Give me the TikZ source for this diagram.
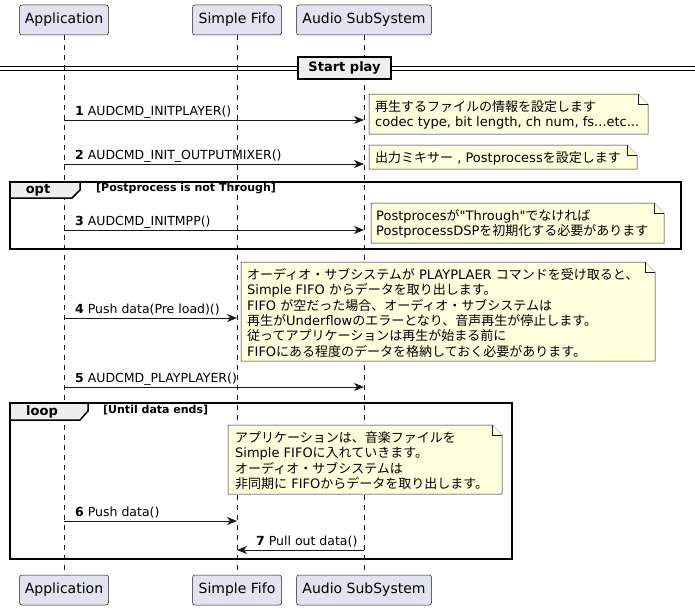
\documentclass[tikz,border=0pt]{standalone}
\usepackage{fontspec}
\setmainfont{DejaVu Sans}
\newfontfamily\rawfont{DejaVu Sans}[Ligatures=ResetAll]
\newfontfamily\jpfont{Noto Sans CJK JP}
\newcommand\jp[1]{{\jpfont #1}}
\newcommand\sq{{\rawfont\char34}}
\newcommand\fl{\rule{0pt}{12pt}}
\usetikzlibrary{arrows.meta}
\definecolor{partfill}{HTML}{E2E2F0}
\definecolor{lineclr}{HTML}{181818}
\definecolor{notefill}{HTML}{FEFFDD}
\definecolor{grpfill}{HTML}{EEEEEE}
\newcommand\notebg[4]{%
  \draw[notebox] (#1,#2) -- ({#3-10},#2) -- (#3,{#2+10}) -- (#3,#4) -- (#1,#4) -- cycle;
  \draw[notebox] ({#3-10},#2) -- ({#3-10},{#2+10}) -- (#3,{#2+10});}
\begin{document}
\begin{tikzpicture}[x=1pt,y=-1pt,
  participant/.style={draw=lineclr, fill=partfill, rounded corners=2.5pt, line width=0.5pt,
    minimum height=30pt, inner sep=0pt, font=\fontsize{14}{16}\selectfont},
  lifeline/.style={draw=lineclr, line width=0.5pt, dash pattern=on 5pt off 5pt},
  msg/.style={draw=lineclr, line width=1pt, -{Stealth[length=10pt,width=8pt,inset=3pt]}},
  msglabel/.style={anchor=base west, inner sep=0pt, font=\fontsize{12.5}{15}\selectfont},
  notebox/.style={draw=lineclr, fill=notefill, line width=0.5pt},
  notetext/.style={anchor=north west, inner sep=0pt, align=left, font=\fontsize{13}{15.4}\selectfont},
  frame/.style={draw=black, line width=1.5pt},
  tabbox/.style={draw=black, line width=1.5pt, fill=grpfill},
  grplabel/.style={inner sep=0pt, font=\fontsize{13}{15}\selectfont\bfseries},
  grpcond/.style={anchor=west, inner sep=0pt, font=\fontsize{11}{13}\selectfont\bfseries},
  divider/.style={draw=black, line width=2pt, fill=grpfill, minimum width=93pt, minimum height=22pt,
    inner sep=0pt, font=\fontsize{13}{15}\selectfont\bfseries}
]
\useasboundingbox (0,0) rectangle (695,610);

% participants
\node[participant, minimum width=89pt]  (appT)  at (64,20)  {Application};
\node[participant, minimum width=89pt]  (fifoT) at (237,20) {Simple Fifo};
\node[participant, minimum width=135pt] (audT)  at (364,20) {Audio SubSystem};
\node[participant, minimum width=89pt]  (appB)  at (64,590)  {Application};
\node[participant, minimum width=89pt]  (fifoB) at (237,590) {Simple Fifo};
\node[participant, minimum width=135pt] (audB)  at (364,590) {Audio SubSystem};

% lifelines
\draw[lifeline] (appT.south) -- (appB.north);
\draw[lifeline] (fifoT.south) -- (fifoB.north);
\draw[lifeline] (audT.south) -- (audB.north);

% divider
\draw[line width=1pt] (0,66) -- (695,66);
\draw[line width=1pt] (0,70) -- (695,70);
\node[divider] (startplay) at (344.5,68) {Start play};

% opt frame
\draw[frame] (10,182) rectangle (681,249);
\draw[tabbox] (10,182) -- (80,182) -- (80,190) -- (72,198) -- (10,198) -- cycle;
\node[grplabel] (optlbl) at (38,190) {opt};
\node[grpcond] (optcond) at (96,189) {[Postprocess is not Through]};

% loop frame
\draw[frame] (10,403) rectangle (512,559);
\draw[tabbox] (10,403) -- (88,403) -- (88,411) -- (80,420) -- (10,420) -- cycle;
\node[grplabel] (looplbl) at (42,411.5) {loop};
\node[grpcond] (loopcond) at (103,410) {[Until data ends]};

% notes
\notebg{369}{94}{648}{134}
\node[notetext] (n1) at (375,99) {\fl\jp{再生するファイルの情報を設定します}\\codec type, bit length, ch num, fs...etc...};
\notebg{369}{145}{637}{169}
\node[notetext] (n2) at (375,150) {\fl\jp{出力ミキサー} , Postprocess\jp{を設定します}};
\notebg{371}{203}{664}{243}
\node[notetext] (n3) at (376,208) {\fl Postproces\jp{が}\sq Through\sq\jp{でなければ}\\PostprocessDSP\jp{を初期化する必要があります}};
\notebg{241}{262}{655}{361}
\node[notetext] (n4) at (247,267) {\fl\jp{オーディオ・サブシステムが} PLAYPLAER \jp{コマンドを受け取ると、}\\
Simple FIFO \jp{からデータを取り出します。}\\
FIFO \jp{が空だった場合、オーディオ・サブシステムは}\\
\jp{再生が}Underflow\jp{のエラーとなり、音声再生が停止します。}\\
\jp{従ってアプリケーションは再生が始まる前に}\\
FIFO\jp{にある程度のデータを格納しておく必要があります。}};
\notebg{228}{425}{502}{494}
\node[notetext] (n5) at (235,430) {\fl\jp{アプリケーションは、音楽ファイルを}\\
Simple FIFO\jp{に入れていきます。}\\
\jp{オーディオ・サブシステムは}\\
\jp{非同期に} FIFO\jp{からデータを取り出します。}};

% message end points
\coordinate (m1s) at (64,120);  \coordinate (m1e) at (364,120);
\coordinate (m2s) at (64,164);  \coordinate (m2e) at (364,164);
\coordinate (m3s) at (64,230);  \coordinate (m3e) at (364,230);
\coordinate (m4s) at (64,318);  \coordinate (m4e) at (237,318);
\coordinate (m5s) at (64,387);  \coordinate (m5e) at (364,387);
\coordinate (m6s) at (64,521);  \coordinate (m6e) at (237,521);
\coordinate (m7s) at (364,550); \coordinate (m7e) at (237,550);

\draw[msg] (m1s) -- (m1e);
\draw[msg] (m2s) -- (m2e);
\draw[msg] (m3s) -- (m3e);
\draw[msg] (m4s) -- (m4e);
\draw[msg] (m5s) -- (m5e);
\draw[msg] (m6s) -- (m6e);
\draw[msg] (m7s) -- (m7e);

\node[msglabel] (l1) at (75,115.5) {\textbf{1} AUDCMD\_INITPLAYER()};
\node[msglabel] (l2) at (75,159.5) {\textbf{2} AUDCMD\_INIT\_OUTPUTMIXER()};
\node[msglabel] (l3) at (75,225.5) {\textbf{3} AUDCMD\_INITMPP()};
\node[msglabel] (l4) at (75,313.5) {\textbf{4} Push data(Pre load)()};
\node[msglabel] (l5) at (75,382.5) {\textbf{5} AUDCMD\_PLAYPLAYER()};
\node[msglabel] (l6) at (75,516.5) {\textbf{6} Push data()};
\node[msglabel] (l7) at (256,545.5) {\textbf{7} Pull out data()};
\end{tikzpicture}
\end{document}
